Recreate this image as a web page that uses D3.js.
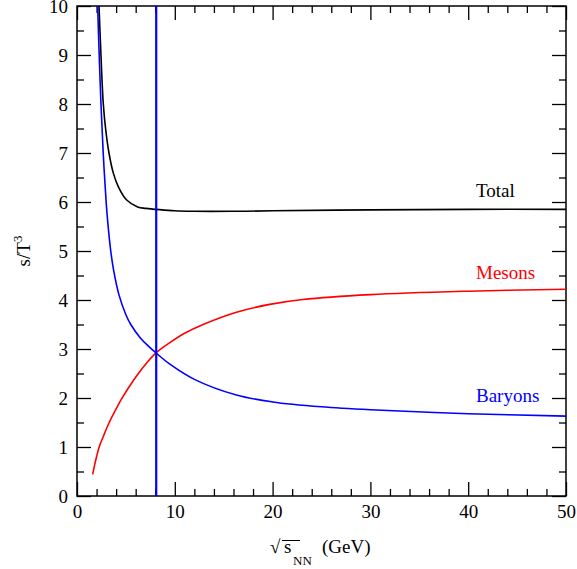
<!DOCTYPE html>
<html>
<head>
<meta charset="utf-8">
<script src="https://cdn.jsdelivr.net/npm/d3@7"></script>
<style>
  body { margin: 0; background: #fff; }
  svg text { font-family: "Liberation Serif", "Times New Roman", Times, "DejaVu Serif", serif; }
</style>
</head>
<body>
<svg id="chart"></svg>
<script>
// values
const totalX   = [2.25, 2.45, 2.69, 2.95, 3.27, 3.7, 4.23, 5.08, 6.2, 7.0, 8.08, 10, 12, 16, 20, 30, 40, 50];
const totalY   = [10, 9, 8, 7.45, 7, 6.6, 6.31, 6.04, 5.9, 5.87, 5.85, 5.82, 5.81, 5.81, 5.82, 5.84, 5.85, 5.85];
const mesonX   = [1.6, 1.8, 2.0, 2.25, 2.7, 3.2, 3.8, 4.5, 5.3, 6.2, 7.1, 8.08, 9.5, 11, 12.9, 16.3, 19.7, 23.1, 30, 40, 50];
const mesonY   = [0.44, 0.63, 0.8, 0.99, 1.22, 1.46, 1.7, 1.96, 2.22, 2.48, 2.71, 2.92, 3.13, 3.32, 3.5, 3.75, 3.91, 4.01, 4.11, 4.18, 4.22];
const baryonX  = [2.11, 2.27, 2.45, 2.68, 2.98, 3.14, 3.45, 3.75, 4.3, 5.0, 5.5, 6.5, 7.3, 8.08, 9.5, 12.0, 16.3, 20, 25, 30, 40, 50];
const baryonY  = [10, 9, 8, 7, 6, 5.6, 5.0, 4.6, 4.1, 3.7, 3.5, 3.22, 3.06, 2.92, 2.69, 2.38, 2.06, 1.92, 1.82, 1.76, 1.68, 1.63];
const cutX     = 8.1;
const xMajor   = [0, 10, 20, 30, 40, 50];
const yMajor   = [0, 1, 2, 3, 4, 5, 6, 7, 8, 9, 10];
const labels   = [
  { text: "Total",   x: 40.8, y: 6.11, color: "#000000" },
  { text: "Mesons",  x: 40.8, y: 4.42, color: "#ff0000" },
  { text: "Baryons", x: 40.8, y: 1.91, color: "#0000ff" }
];

const FONT = "'Liberation Serif', 'Times New Roman', Times, 'DejaVu Serif', serif";
const W = 577, H = 569;
const margin = { left: 77, top: 6, right: 11, bottom: 73 };
const width = W - margin.left - margin.right;
const height = H - margin.top - margin.bottom;

const svg = d3.select("#chart").attr("width", W).attr("height", H)
  .attr("font-family", FONT);
const g = svg.append("g").attr("transform", `translate(${margin.left},${margin.top})`);

const x = d3.scaleLinear().domain([0, 50]).range([0, width]);
const y = d3.scaleLinear().domain([0, 10]).range([height, 0]);

const xMinor = d3.range(0, 50.01, 2).filter(v => v % 10 !== 0);
const yMinor = d3.range(0.5, 10, 1);

// axes, ticks pointing inwards on all four sides
const styleAxis = sel => {
  sel.attr("font-family", FONT);
  sel.select(".domain").remove();
  sel.selectAll("line").attr("stroke", "#000").attr("stroke-width", 1.3);
  sel.selectAll("text").attr("font-size", 19).attr("fill", "#000");
};

g.append("g").attr("transform", `translate(0,${height})`)
  .call(d3.axisBottom(x).tickValues(xMajor).tickSize(-14).tickPadding(9).tickFormat(d3.format("d")))
  .call(styleAxis);
g.append("g").attr("transform", `translate(0,${height})`)
  .call(d3.axisBottom(x).tickValues(xMinor).tickSize(-7).tickFormat(""))
  .call(styleAxis);
g.append("g")
  .call(d3.axisTop(x).tickValues(xMajor).tickSize(-14).tickFormat(""))
  .call(styleAxis);
g.append("g")
  .call(d3.axisTop(x).tickValues(xMinor).tickSize(-7).tickFormat(""))
  .call(styleAxis);

g.append("g")
  .call(d3.axisLeft(y).tickValues(yMajor).tickSize(-14).tickPadding(9).tickFormat(d3.format("d")))
  .call(styleAxis);
g.append("g")
  .call(d3.axisLeft(y).tickValues(yMinor).tickSize(-7).tickFormat(""))
  .call(styleAxis);
g.append("g").attr("transform", `translate(${width},0)`)
  .call(d3.axisRight(y).tickValues(yMajor).tickSize(-14).tickFormat(""))
  .call(styleAxis);
g.append("g").attr("transform", `translate(${width},0)`)
  .call(d3.axisRight(y).tickValues(yMinor).tickSize(-7).tickFormat(""))
  .call(styleAxis);

// frame
g.append("rect")
  .attr("width", width).attr("height", height)
  .attr("fill", "none").attr("stroke", "#000").attr("stroke-width", 1.5);

g.append("clipPath").attr("id", "clip")
  .append("rect").attr("width", width).attr("height", height);

const line = d3.line()
  .x(d => x(d[0]))
  .y(d => y(d[1]))
  .curve(d3.curveCatmullRom.alpha(0.5));

const series = [
  { xs: totalX,  ys: totalY,  color: "#000000" },
  { xs: mesonX,  ys: mesonY,  color: "#ff0000" },
  { xs: baryonX, ys: baryonY, color: "#0000ff" }
];

const curves = g.append("g").attr("clip-path", "url(#clip)");
curves.selectAll("path")
  .data(series)
  .enter()
  .append("path")
  .attr("d", s => line(s.xs.map((v, i) => [v, s.ys[i]])))
  .attr("fill", "none")
  .attr("stroke", s => s.color)
  .attr("stroke-width", 1.6);

// vertical line
curves.append("line")
  .attr("x1", x(cutX)).attr("x2", x(cutX))
  .attr("y1", y(0)).attr("y2", y(10))
  .attr("stroke", "#0000ff")
  .attr("stroke-width", 2.2);

// curve labels
g.selectAll(".lbl")
  .data(labels)
  .enter()
  .append("text")
  .attr("class", "lbl")
  .attr("x", d => x(d.x))
  .attr("y", d => y(d.y))
  .attr("fill", d => d.color)
  .attr("font-size", 19)
  .text(d => d.text);

// y-axis title s/T^3
const yt = svg.append("text")
  .attr("transform", `translate(30,${margin.top + height / 2}) rotate(-90)`)
  .attr("text-anchor", "middle")
  .attr("font-size", 19)
  .attr("fill", "#000");
yt.append("tspan").text("s/T");
yt.append("tspan").attr("font-size", 13).attr("dy", -8).text("3");

// x-axis title  √s_NN (GeV)
const xt = svg.append("g");
xt.append("text")
  .attr("x", 270).attr("y", 553)
  .attr("font-size", 19)
  .text("\u221A");
xt.append("line")
  .attr("x1", 282).attr("x2", 300)
  .attr("y1", 540.5).attr("y2", 540.5)
  .attr("stroke", "#000").attr("stroke-width", 1);
xt.append("text")
  .attr("x", 284).attr("y", 553)
  .attr("font-size", 19)
  .text("s");
xt.append("text")
  .attr("x", 293).attr("y", 565)
  .attr("font-size", 13)
  .text("NN");
xt.append("text")
  .attr("x", 322).attr("y", 553)
  .attr("font-size", 19)
  .text("(GeV)");
</script>
</body>
</html>
